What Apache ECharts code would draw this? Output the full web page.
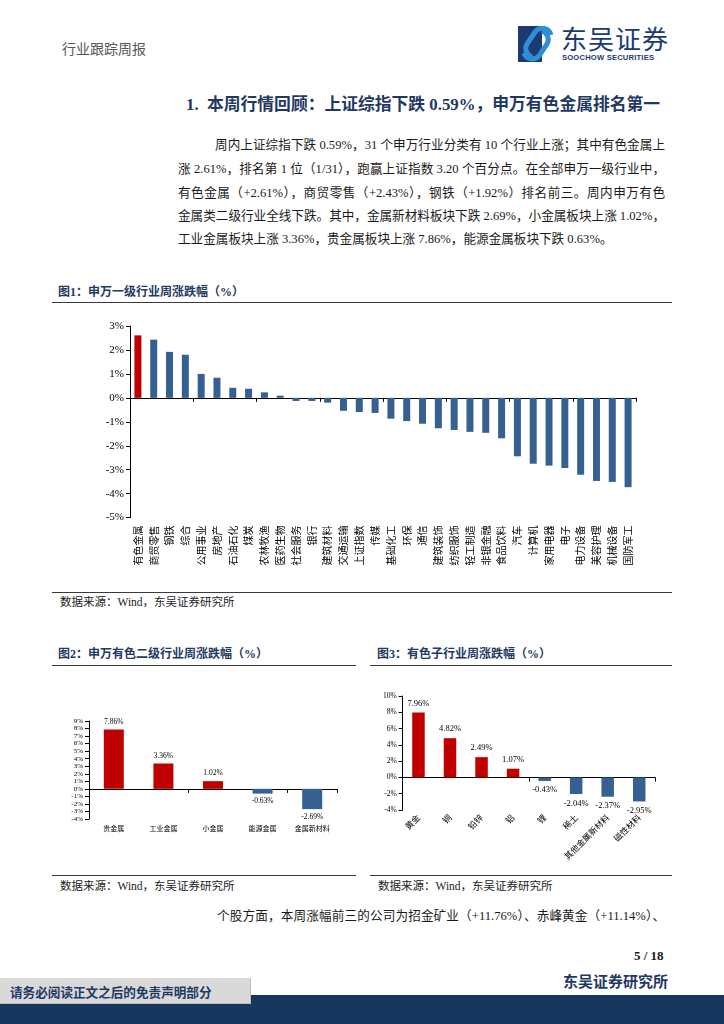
<!DOCTYPE html>
<html><head><meta charset="utf-8">
<script src="https://cdn.jsdelivr.net/npm/echarts@6/dist/echarts.min.js"></script>
<style>
html,body{margin:0;padding:0}
body{width:724px;height:1024px;position:relative;background:#fff;overflow:hidden;font-family:"Liberation Serif","Noto Sans CJK SC",serif;color:#1a1a1a}
.abs{position:absolute;white-space:nowrap}
.jl{position:absolute;text-align:justify;text-align-last:justify;font-size:12.6px;line-height:18px}
.ft{font-weight:bold;color:#1f3864;font-size:12px;line-height:16px}
.src{font-size:11.5px;line-height:14px;color:#222}
.rule{position:absolute;height:0;border-top:1.6px solid #3a3a3a}
</style></head><body>

<div class="abs" style="left:62px;top:38px;font-size:14px;color:#555;">行业跟踪周报</div>
<svg class="abs" style="left:518px;top:26px" width="38" height="36" viewBox="0 0 38 36">
  <rect x="0" y="0" width="24" height="36" fill="#1c3a72"/>
  <path d="M33 9 A9 9 0 0 0 17 6 L9 18 A9 9 0 0 0 14 31" stroke="#2f8ed6" stroke-width="5" fill="none"/>
  <path d="M6 27 A9 9 0 0 0 21 30 L29 18 A9 9 0 0 0 24 5" stroke="#2f8ed6" stroke-width="5" fill="none"/>
</svg>
<div class="abs" style="left:561px;top:22px;font-size:26px;line-height:32px;color:#1c3a72;font-family:'Noto Sans CJK SC';letter-spacing:1px">东吴证券</div>
<div class="abs" style="left:562px;top:53px;font-size:7.6px;line-height:10px;color:#1c3a72;font-weight:bold;font-family:'Liberation Sans';letter-spacing:0.2px">SOOCHOW SECURITIES</div>

<div class="abs" style="left:186px;top:94px;font-size:16.8px;line-height:22px;font-weight:bold;color:#1f3864;">1.&nbsp; 本周行情回顾：上证综指下跌 0.59%，申万有色金属排名第一</div>

<div class="jl" style="left:215px;top:136px;width:450px">周内上证综指下跌 0.59%，31 个申万行业分类有 10 个行业上涨；其中有色金属上</div>
<div class="jl" style="left:178px;top:160px;width:487px">涨 2.61%，排名第 1 位（1/31），跑赢上证指数 3.20 个百分点。在全部申万一级行业中，</div>
<div class="jl" style="left:178px;top:184px;width:487px">有色金属（+2.61%），商贸零售（+2.43%），钢铁（+1.92%）排名前三。周内申万有色</div>
<div class="jl" style="left:178px;top:207px;width:487px">金属类二级行业全线下跌。其中，金属新材料板块下跌 2.69%，小金属板块上涨 1.02%，</div>
<div class="abs" style="left:178px;top:230px;font-size:12.6px;line-height:18px">工业金属板块上涨 3.36%，贵金属板块上涨 7.86%，能源金属板块下跌 0.63%。</div>

<div class="abs ft" style="left:58px;top:284px">图1：申万一级行业周涨跌幅（%）</div>
<div class="rule" style="left:52px;top:302px;width:620px"></div>
<div id="c1" class="abs" style="left:52px;top:310px;width:620px;height:275px"></div>
<div class="rule" style="left:52px;top:592px;width:620px"></div>
<div class="abs src" style="left:60px;top:595px">数据来源：Wind，东吴证券研究所</div>

<div class="abs ft" style="left:58px;top:646px">图2：申万有色二级行业周涨跌幅（%）</div>
<div class="rule" style="left:52px;top:665px;width:304px"></div>
<div id="c2" class="abs" style="left:52px;top:700px;width:305px;height:145px"></div>
<div class="rule" style="left:52px;top:875px;width:304px"></div>
<div class="abs src" style="left:60px;top:879px">数据来源：Wind，东吴证券研究所</div>

<div class="abs ft" style="left:377px;top:646px">图3：有色子行业周涨跌幅（%）</div>
<div class="rule" style="left:370px;top:665px;width:302px"></div>
<div id="c3" class="abs" style="left:370px;top:680px;width:302px;height:192px"></div>
<div class="rule" style="left:370px;top:875px;width:302px"></div>
<div class="abs src" style="left:378px;top:879px">数据来源：Wind，东吴证券研究所</div>

<div class="jl" style="left:217px;top:907px;width:448px">个股方面，本周涨幅前三的公司为招金矿业（+11.76%）、赤峰黄金（+11.14%）、</div>

<div class="abs" style="left:634px;top:948px;font-size:13px;font-weight:bold;">5 / 18</div>
<div class="abs" style="left:563px;top:970px;font-size:15px;font-weight:bold;color:#1f3864;">东吴证券研究所</div>
<div class="abs" style="left:0;top:995px;width:724px;height:29px;background:#17375e"></div>
<div class="abs" style="left:0;top:978px;width:250px;height:25px;background:#d9d9d9;border-right:1px solid #bbb;border-bottom:1px solid #bbb"></div>
<div class="abs" style="left:10px;top:982px;font-size:12.6px;font-weight:bold;color:#1f3864;">请务必阅读正文之后的免责声明部分</div>

<script>
const industries = ['有色金属','商贸零售','钢铁','综合','公用事业','房地产','石油石化','煤炭','农林牧渔','医药生物','社会服务','银行','建筑材料','交通运输','上证指数','传媒','基础化工','环保','通信','建筑装饰','纺织服饰','轻工制造','非银金融','食品饮料','汽车','计算机','家用电器','电子','电力设备','美容护理','机械设备','国防军工'];
const industryChange = [2.61,2.43,1.92,1.80,1.00,0.84,0.42,0.38,0.23,0.09,-0.13,-0.13,-0.20,-0.54,-0.59,-0.63,-0.87,-0.97,-1.08,-1.27,-1.34,-1.42,-1.46,-1.69,-2.44,-2.75,-2.83,-2.93,-3.21,-3.47,-3.51,-3.73];
const highlightIndustry = '有色金属';

const subIndustries = ['贵金属','工业金属','小金属','能源金属','金属新材料'];
const subChange = [7.86,3.36,1.02,-0.63,-2.69];

const segments = ['黄金','铜','铅锌','铝','锂','稀土','其他金属新材料','磁性材料'];
const segmentChange = [7.96,4.82,2.49,1.07,-0.43,-2.04,-2.37,-2.95];

const RED = '#C00000', BLUE = '#376092';
const NUMFONT = '"Liberation Serif","Noto Sans CJK SC",serif';
const CJKFONT = '"Noto Sans CJK SC",sans-serif';

function valueAxis(min, max, interval, size) {
  return {
    type: 'value', min: min, max: max, interval: interval,
    axisLine: {show: true, lineStyle: {color: '#000', width: 1}},
    axisTick: {show: true, length: 4, lineStyle: {color: '#000'}},
    splitLine: {show: false},
    axisLabel: {formatter: '{value}%', color: '#000', fontSize: size, fontFamily: NUMFONT, margin: 6}
  };
}
function zeroAxis(cats) {
  return {
    type: 'category', data: cats, axisLine: {onZero: true, lineStyle: {color: '#000', width: 1}},
    axisTick: {show: true, length: 4, lineStyle: {color: '#000'}},
    axisLabel: {show: false}
  };
}
function labelAxis(cats, extra) {
  return Object.assign({
    type: 'category', data: cats, position: 'bottom',
    axisLine: {show: false, onZero: false}, axisTick: {show: false}
  }, extra);
}

// Chart 1
const c1 = echarts.init(document.getElementById('c1'));
c1.setOption({
  animation: false,
  grid: {left: 78, top: 16, width: 506, height: 191.6},
  xAxis: [zeroAxis(industries), labelAxis(industries, {
    axisLabel: {interval: 0, rotate: 90, fontSize: 10, color: '#000', fontFamily: CJKFONT, margin: 8}
  })],
  yAxis: valueAxis(-5, 3, 1, 11),
  series: [{
    type: 'bar', xAxisIndex: 0, barWidth: 7,
    data: industries.map((n, i) => ({value: industryChange[i], itemStyle: {color: n === highlightIndustry ? RED : BLUE}}))
  }]
});

// Chart 2
const c2 = echarts.init(document.getElementById('c2'));
c2.setOption({
  animation: false,
  grid: {left: 37, top: 21, width: 248, height: 98},
  xAxis: [zeroAxis(subIndustries), labelAxis(subIndustries, {
    axisLabel: {interval: 0, fontSize: 7, color: '#000', fontFamily: CJKFONT, margin: 6}
  })],
  yAxis: valueAxis(-4, 9, 1, 7),
  series: [{
    type: 'bar', xAxisIndex: 0, barWidth: 20,
    data: subChange.map(v => ({
      value: v, itemStyle: {color: v >= 0 ? RED : BLUE},
      label: {show: true, position: v >= 0 ? 'top' : 'bottom', distance: 4, formatter: v.toFixed(2) + '%', fontSize: 7.5, color: '#000', fontFamily: NUMFONT}
    }))
  }]
});

// Chart 3
const c3 = echarts.init(document.getElementById('c3'));
c3.setOption({
  animation: false,
  grid: {left: 32.7, top: 16, width: 252.3, height: 114},
  xAxis: [zeroAxis(segments), labelAxis(segments, {
    axisLabel: {interval: 0, rotate: 45, fontSize: 8.5, color: '#000', fontFamily: CJKFONT, margin: 6}
  })],
  yAxis: valueAxis(-4, 10, 2, 7.5),
  series: [{
    type: 'bar', xAxisIndex: 0, barWidth: 12.5,
    data: segmentChange.map(v => ({
      value: v, itemStyle: {color: v >= 0 ? RED : BLUE},
      label: {show: true, position: v >= 0 ? 'top' : 'bottom', distance: 5, formatter: v.toFixed(2) + '%', fontSize: 8.5, color: '#000', fontFamily: NUMFONT}
    }))
  }]
});
</script>
</body></html>
